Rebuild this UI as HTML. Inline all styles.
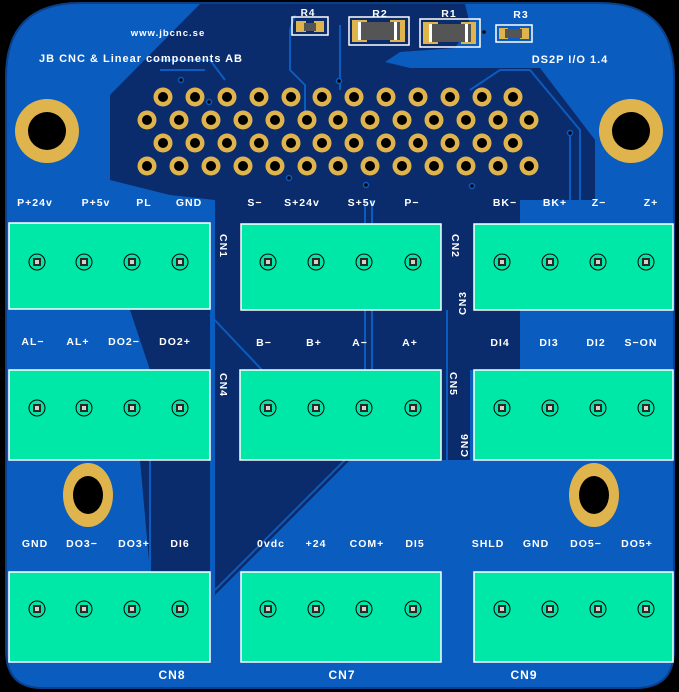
<!DOCTYPE html>
<html><head><meta charset="utf-8"><style>
html,body{margin:0;padding:0;background:#000;}
svg{display:block}
text{font-family:"Liberation Sans",sans-serif;font-weight:bold;fill:#fff;letter-spacing:1px;}
</style></head><body>
<svg width="679" height="692" viewBox="0 0 679 692" xmlns="http://www.w3.org/2000/svg">
<defs>
<g id="h"><circle r="9.5" fill="#e0b44c"/><circle r="5" fill="#000"/></g>
<g id="p"><circle r="8" fill="none" stroke="#000" stroke-width="1"/><rect x="-4" y="-4" width="8" height="8" fill="#2a2a2a"/><rect x="-2" y="-2" width="4" height="4" fill="#d8d0c0"/></g>
</defs>
<rect width="679" height="692" fill="#000"/>
<path d="M80 3 H600 Q674 3 674 77 V650 Q674 688 636 688 H42 Q6 688 6 650 V77 Q6 3 80 3 Z" fill="#0b5cbf" stroke="#0a3f8a" stroke-width="2"/>
<!-- dark regions -->
<path d="M200 4 L465 4 L470 25 L455 48 L400 52 L385 62 L410 68 L540 68 L595 140 L595 200 L470 200 L470 460 L215 460 L215 200 L170 195 L110 180 L110 95 Z" fill="#0a2b6c"/>
<path d="M215 460 L350 460 L215 595 Z" fill="#0a2b6c"/>
<path d="M470 200 L520 200 L520 370 L470 370 Z" fill="#0a2b6c"/>
<path d="M130 310 L210 310 L210 370 L150 370 Z" fill="#0a2b6c"/>
<path d="M140 460 L210 460 L210 572 L150 572 Z" fill="#0a2b6c"/>
<!-- traces -->
<g stroke="#0b5cbf" stroke-width="2" fill="none">
<path d="M210 315 L262 370"/>
<path d="M345 460 L215 590"/><path d="M360 460 L228 595"/>
<path d="M392 460 V530 L350 572"/><path d="M397 460 V532 L355 572"/>
<path d="M447 310 V525 L400 572"/><path d="M440 560 L475 525"/>
<path d="M372 200 V680"/><path d="M365 200 V680"/>
<path d="M150 60 H210 L225 80"/><path d="M160 70 H205"/>
<path d="M295 15 L290 30 V70 L305 85 V120"/>
<path d="M340 25 V90"/>
<path d="M470 90 L500 70 H530 L580 130 V200"/>
<path d="M570 135 V310"/>
<path d="M125 310 V370"/><path d="M150 460 V572"/>
</g>
<!-- holes -->
<g>
<use href="#h" x="163" y="97"/><use href="#h" x="195" y="97"/><use href="#h" x="227" y="97"/><use href="#h" x="259" y="97"/><use href="#h" x="291" y="97"/><use href="#h" x="322" y="97"/><use href="#h" x="354" y="97"/><use href="#h" x="386" y="97"/><use href="#h" x="418" y="97"/><use href="#h" x="450" y="97"/><use href="#h" x="482" y="97"/><use href="#h" x="513" y="97"/>
<use href="#h" x="147" y="120"/><use href="#h" x="179" y="120"/><use href="#h" x="211" y="120"/><use href="#h" x="243" y="120"/><use href="#h" x="275" y="120"/><use href="#h" x="307" y="120"/><use href="#h" x="338" y="120"/><use href="#h" x="370" y="120"/><use href="#h" x="402" y="120"/><use href="#h" x="434" y="120"/><use href="#h" x="466" y="120"/><use href="#h" x="498" y="120"/><use href="#h" x="529" y="120"/>
<use href="#h" x="163" y="143"/><use href="#h" x="195" y="143"/><use href="#h" x="227" y="143"/><use href="#h" x="259" y="143"/><use href="#h" x="291" y="143"/><use href="#h" x="322" y="143"/><use href="#h" x="354" y="143"/><use href="#h" x="386" y="143"/><use href="#h" x="418" y="143"/><use href="#h" x="450" y="143"/><use href="#h" x="482" y="143"/><use href="#h" x="513" y="143"/>
<use href="#h" x="147" y="166"/><use href="#h" x="179" y="166"/><use href="#h" x="211" y="166"/><use href="#h" x="243" y="166"/><use href="#h" x="275" y="166"/><use href="#h" x="307" y="166"/><use href="#h" x="338" y="166"/><use href="#h" x="370" y="166"/><use href="#h" x="402" y="166"/><use href="#h" x="434" y="166"/><use href="#h" x="466" y="166"/><use href="#h" x="498" y="166"/><use href="#h" x="529" y="166"/>
</g>
<!-- vias -->
<g fill="#000" stroke="#0b5cbf" stroke-width="1.5">
<circle cx="181" cy="80" r="2.5"/><circle cx="209" cy="102" r="2.5"/><circle cx="339" cy="81" r="2.5"/><circle cx="289" cy="178" r="2.5"/><circle cx="366" cy="185" r="2.5"/><circle cx="472" cy="186" r="2.5"/><circle cx="570" cy="133" r="2.5"/><circle cx="484" cy="32" r="2.5"/>
</g>
<!-- mounting holes -->
<circle cx="47" cy="131" r="32" fill="#e0b44c"/><circle cx="47" cy="131" r="19" fill="#000"/>
<circle cx="631" cy="131" r="32" fill="#e0b44c"/><circle cx="631" cy="131" r="19" fill="#000"/>
<ellipse cx="88" cy="495" rx="25" ry="32" fill="#e0b44c"/><ellipse cx="88" cy="495" rx="15" ry="19" fill="#000"/>
<ellipse cx="594" cy="495" rx="25" ry="32" fill="#e0b44c"/><ellipse cx="594" cy="495" rx="15" ry="19" fill="#000"/>
<!-- resistors -->
<rect x="292" y="17" width="36" height="18" fill="none" stroke="#fff" stroke-width="1.5"/>
<rect x="296" y="21" width="10" height="11" fill="#e0b44c"/><rect x="314" y="21" width="10" height="11" fill="#e0b44c"/><rect x="304" y="23" width="12" height="8" fill="#555"/>
<rect x="349" y="17" width="60" height="28" fill="none" stroke="#fff" stroke-width="1.5"/>
<rect x="352" y="20" width="15" height="22" fill="#e0b44c"/><rect x="390" y="20" width="15" height="22" fill="#e0b44c"/><rect x="360" y="22" width="40" height="18" fill="#555"/><rect x="358" y="22" width="3" height="18" fill="#fff"/><rect x="394" y="22" width="3" height="18" fill="#fff"/>
<rect x="420" y="19" width="60" height="28" fill="none" stroke="#fff" stroke-width="1.5"/>
<rect x="423" y="22" width="15" height="22" fill="#e0b44c"/><rect x="461" y="22" width="15" height="22" fill="#e0b44c"/><rect x="431" y="24" width="40" height="18" fill="#555"/><rect x="429" y="24" width="3" height="18" fill="#fff"/><rect x="465" y="24" width="3" height="18" fill="#fff"/>
<rect x="496" y="25" width="36" height="17" fill="none" stroke="#fff" stroke-width="1.5"/>
<rect x="499" y="28" width="9" height="11" fill="#e0b44c"/><rect x="520" y="28" width="9" height="11" fill="#e0b44c"/><rect x="505" y="29" width="17" height="9" fill="#555"/>
<!-- connectors -->
<g fill="#00e8a8" stroke="#fff" stroke-width="1.5">
<rect x="9" y="223" width="201" height="86"/><rect x="241" y="224" width="200" height="86"/><rect x="474" y="224" width="199" height="86"/>
<rect x="9" y="370" width="201" height="90"/><rect x="240" y="370" width="201" height="90"/><rect x="474" y="370" width="199" height="90"/>
<rect x="9" y="572" width="201" height="90"/><rect x="241" y="572" width="200" height="90"/><rect x="474" y="572" width="199" height="90"/>
</g>
<g>
<use href="#p" x="37" y="262"/><use href="#p" x="84" y="262"/><use href="#p" x="132" y="262"/><use href="#p" x="180" y="262"/>
<use href="#p" x="268" y="262"/><use href="#p" x="316" y="262"/><use href="#p" x="364" y="262"/><use href="#p" x="413" y="262"/>
<use href="#p" x="502" y="262"/><use href="#p" x="550" y="262"/><use href="#p" x="598" y="262"/><use href="#p" x="646" y="262"/>
<use href="#p" x="37" y="408"/><use href="#p" x="84" y="408"/><use href="#p" x="132" y="408"/><use href="#p" x="180" y="408"/>
<use href="#p" x="268" y="408"/><use href="#p" x="316" y="408"/><use href="#p" x="364" y="408"/><use href="#p" x="413" y="408"/>
<use href="#p" x="502" y="408"/><use href="#p" x="550" y="408"/><use href="#p" x="598" y="408"/><use href="#p" x="646" y="408"/>
<use href="#p" x="37" y="609"/><use href="#p" x="84" y="609"/><use href="#p" x="132" y="609"/><use href="#p" x="180" y="609"/>
<use href="#p" x="268" y="609"/><use href="#p" x="316" y="609"/><use href="#p" x="364" y="609"/><use href="#p" x="413" y="609"/>
<use href="#p" x="502" y="609"/><use href="#p" x="550" y="609"/><use href="#p" x="598" y="609"/><use href="#p" x="646" y="609"/>
</g>
<!-- labels -->
<g font-size="10.5" text-anchor="middle">
<text x="168" y="36" font-size="9.5" letter-spacing="1.5">www.jbcnc.se</text>
<text x="141" y="62" font-size="11" letter-spacing="1.5">JB CNC &amp; Linear components AB</text>
<text x="570" y="63" font-size="11" letter-spacing="1.5">DS2P I/O 1.4</text>
<text x="308" y="16" font-size="10">R4</text><text x="380" y="17">R2</text><text x="449" y="17">R1</text><text x="521" y="18">R3</text>
<text x="35" y="206">P+24v</text><text x="96" y="206">P+5v</text><text x="144" y="206">PL</text><text x="189" y="206">GND</text>
<text x="255" y="206">S−</text><text x="302" y="206">S+24v</text><text x="362" y="206">S+5v</text><text x="412" y="206">P−</text>
<text x="505" y="206">BK−</text><text x="555" y="206">BK+</text><text x="599" y="206">Z−</text><text x="651" y="206">Z+</text>
<text x="33" y="345">AL−</text><text x="78" y="345">AL+</text><text x="124" y="345">DO2−</text><text x="175" y="345">DO2+</text>
<text x="264" y="346">B−</text><text x="314" y="346">B+</text><text x="360" y="346">A−</text><text x="410" y="346">A+</text>
<text x="500" y="346">DI4</text><text x="549" y="346">DI3</text><text x="596" y="346">DI2</text><text x="641" y="346">S−ON</text>
<text x="35" y="547">GND</text><text x="82" y="547">DO3−</text><text x="134" y="547">DO3+</text><text x="180" y="547">DI6</text>
<text x="271" y="547">0vdc</text><text x="316" y="547">+24</text><text x="367" y="547">COM+</text><text x="415" y="547">DI5</text>
<text x="488" y="547">SHLD</text><text x="536" y="547">GND</text><text x="586" y="547">DO5−</text><text x="637" y="547">DO5+</text>
<text x="172" y="679" font-size="12">CN8</text><text x="342" y="679" font-size="12">CN7</text><text x="524" y="679" font-size="12">CN9</text>
</g>
<g font-size="10.5">
<text transform="translate(220,234) rotate(90)">CN1</text>
<text transform="translate(452,234) rotate(90)">CN2</text>
<text transform="translate(466,315) rotate(-90)">CN3</text>
<text transform="translate(220,373) rotate(90)">CN4</text>
<text transform="translate(450,372) rotate(90)">CN5</text>
<text transform="translate(468,457) rotate(-90)">CN6</text>
</g>
</svg>
</body></html>
